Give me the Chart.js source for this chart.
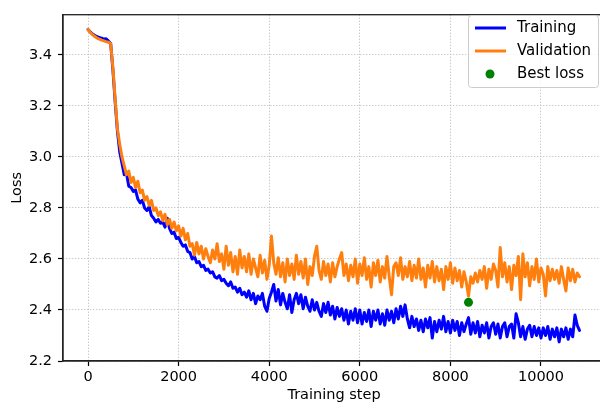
<!DOCTYPE html>
<html>
<head>
<meta charset="utf-8">
<script src="https://cdn.jsdelivr.net/npm/chart.js@4/dist/chart.umd.min.js"></script>
<style>
  html, body { margin: 0; padding: 0; background: #fff; }
  #wrap { width: 600px; height: 407px; overflow: hidden; position: relative; }
  canvas { display: block; }
</style>
</head>
<body>
<div id="wrap"><canvas id="graficoLoss" width="610" height="407"></canvas></div>
<script>
// Passos de treino (eixo x)
const steps = [
  0, 50, 100, 150, 200, 250, 300, 350, 400, 450,
  500, 550, 600, 650, 700, 750, 800, 850, 900, 950,
  1000, 1050, 1100, 1150, 1200, 1250, 1300, 1350, 1400, 1450,
  1500, 1550, 1600, 1650, 1700, 1750, 1800, 1850, 1900, 1950,
  2000, 2050, 2100, 2150, 2200, 2250, 2300, 2350, 2400, 2450,
  2500, 2550, 2600, 2650, 2700, 2750, 2800, 2850, 2900, 2950,
  3000, 3050, 3100, 3150, 3200, 3250, 3300, 3350, 3400, 3450,
  3500, 3550, 3600, 3650, 3700, 3750, 3800, 3850, 3900, 3950,
  4000, 4050, 4100, 4150, 4200, 4250, 4300, 4350, 4400, 4450,
  4500, 4550, 4600, 4650, 4700, 4750, 4800, 4850, 4900, 4950,
  5000, 5050, 5100, 5150, 5200, 5250, 5300, 5350, 5400, 5450,
  5500, 5550, 5600, 5650, 5700, 5750, 5800, 5850, 5900, 5950,
  6000, 6050, 6100, 6150, 6200, 6250, 6300, 6350, 6400, 6450,
  6500, 6550, 6600, 6650, 6700, 6750, 6800, 6850, 6900, 6950,
  7000, 7050, 7100, 7150, 7200, 7250, 7300, 7350, 7400, 7450,
  7500, 7550, 7600, 7650, 7700, 7750, 7800, 7850, 7900, 7950,
  8000, 8050, 8100, 8150, 8200, 8250, 8300, 8350, 8400, 8450,
  8500, 8550, 8600, 8650, 8700, 8750, 8800, 8850, 8900, 8950,
  9000, 9050, 9100, 9150, 9200, 9250, 9300, 9350, 9400, 9450,
  9500, 9550, 9600, 9650, 9700, 9750, 9800, 9850, 9900, 9950,
  10000, 10050, 10100, 10150, 10200, 10250, 10300, 10350, 10400, 10450,
  10500, 10550, 10600, 10650, 10700, 10750, 10800, 10850
];

// Loss de treino
const trainLoss = [
  3.500, 3.490, 3.482, 3.476, 3.472, 3.468, 3.466, 3.462, 3.463, 3.455,
  3.445, 3.340, 3.215, 3.100, 3.020, 2.975, 2.930, 2.935, 2.885, 2.880,
  2.865, 2.870, 2.835, 2.820, 2.830, 2.800, 2.790, 2.805, 2.770, 2.760,
  2.745, 2.755, 2.740, 2.745, 2.725, 2.760, 2.720, 2.700, 2.705, 2.680,
  2.685, 2.665, 2.650, 2.655, 2.630, 2.625, 2.600, 2.610, 2.585, 2.590,
  2.570, 2.575, 2.555, 2.560, 2.545, 2.550, 2.530, 2.525, 2.535, 2.515,
  2.520, 2.505, 2.495, 2.510, 2.485, 2.490, 2.470, 2.485, 2.460, 2.470,
  2.450, 2.475, 2.440, 2.465, 2.425, 2.455, 2.440, 2.465, 2.415, 2.395,
  2.445, 2.470, 2.500, 2.435, 2.480, 2.420, 2.465, 2.430, 2.405, 2.460,
  2.390, 2.440, 2.465, 2.425, 2.460, 2.405, 2.450, 2.415, 2.395, 2.440,
  2.400, 2.430, 2.395, 2.375, 2.425, 2.390, 2.430, 2.380, 2.415, 2.365,
  2.410, 2.375, 2.405, 2.360, 2.400, 2.345, 2.395, 2.360, 2.405, 2.350,
  2.400, 2.345, 2.390, 2.355, 2.400, 2.335, 2.395, 2.360, 2.400, 2.345,
  2.385, 2.340, 2.400, 2.360, 2.395, 2.350, 2.405, 2.365, 2.415, 2.375,
  2.420, 2.365, 2.330, 2.375, 2.335, 2.365, 2.320, 2.360, 2.315, 2.365,
  2.330, 2.370, 2.290, 2.355, 2.315, 2.360, 2.325, 2.375, 2.315, 2.355,
  2.310, 2.360, 2.320, 2.355, 2.300, 2.350, 2.315, 2.345, 2.370, 2.305,
  2.350, 2.310, 2.355, 2.295, 2.340, 2.310, 2.350, 2.290, 2.335, 2.350,
  2.305, 2.345, 2.290, 2.335, 2.350, 2.295, 2.335, 2.345, 2.290, 2.385,
  2.350, 2.295, 2.335, 2.285, 2.325, 2.340, 2.295, 2.335, 2.300, 2.330,
  2.290, 2.330, 2.300, 2.335, 2.285, 2.325, 2.295, 2.330, 2.275, 2.325,
  2.295, 2.330, 2.285, 2.325, 2.295, 2.380, 2.340, 2.320
];

// Loss de validação
const valLoss = [
  3.500, 3.488, 3.480, 3.472, 3.466, 3.462, 3.458, 3.455, 3.452, 3.450,
  3.445, 3.350, 3.225, 3.110, 3.050, 3.000, 2.965, 2.930, 2.945, 2.900,
  2.920, 2.880, 2.905, 2.860, 2.870, 2.830, 2.845, 2.810, 2.830, 2.790,
  2.800, 2.770, 2.785, 2.750, 2.775, 2.735, 2.755, 2.720, 2.745, 2.710,
  2.730, 2.690, 2.720, 2.675, 2.700, 2.650, 2.660, 2.615, 2.665, 2.620,
  2.650, 2.600, 2.640, 2.610, 2.585, 2.635, 2.600, 2.660, 2.590, 2.620,
  2.560, 2.650, 2.575, 2.625, 2.550, 2.610, 2.540, 2.635, 2.565, 2.610,
  2.550, 2.620, 2.540, 2.600, 2.565, 2.530, 2.615, 2.545, 2.595, 2.520,
  2.575, 2.690, 2.585, 2.540, 2.605, 2.530, 2.585, 2.510, 2.600, 2.535,
  2.580, 2.520, 2.615, 2.540, 2.590, 2.525, 2.600, 2.500, 2.570, 2.535,
  2.610, 2.650, 2.555, 2.520, 2.590, 2.535, 2.580, 2.510, 2.585, 2.530,
  2.570, 2.600, 2.625, 2.535, 2.580, 2.515, 2.575, 2.530, 2.600, 2.505,
  2.580, 2.535, 2.605, 2.520, 2.570, 2.490, 2.585, 2.535, 2.595, 2.510,
  2.570, 2.525, 2.610, 2.530, 2.460, 2.570, 2.585, 2.535, 2.605, 2.520,
  2.570, 2.530, 2.590, 2.515, 2.575, 2.525, 2.600, 2.520, 2.565, 2.490,
  2.575, 2.525, 2.590, 2.510, 2.570, 2.515, 2.560, 2.480, 2.570, 2.520,
  2.585, 2.505, 2.565, 2.515, 2.555, 2.490, 2.550, 2.510, 2.455, 2.530,
  2.505, 2.545, 2.510, 2.555, 2.520, 2.570, 2.485, 2.560, 2.520, 2.580,
  2.555, 2.490, 2.645, 2.530, 2.585, 2.510, 2.570, 2.480, 2.575, 2.535,
  2.610, 2.440, 2.620, 2.530, 2.585, 2.495, 2.570, 2.520, 2.600, 2.510,
  2.565, 2.540, 2.455, 2.570, 2.515, 2.560, 2.520, 2.555, 2.505, 2.570,
  2.520, 2.475, 2.565, 2.515, 2.560, 2.510, 2.545, 2.530
];

// Melhor loss (passo, valor)
const bestStep = [8400];
const bestLoss = [2.43];

// Ticks dos eixos
const xTicks = [0, 2000, 4000, 6000, 8000, 10000];
const yTicks = [2.2, 2.4, 2.6, 2.8, 3.0, 3.2, 3.4];

const fonte = "'DejaVu Sans', sans-serif";

function pares(xs, ys) {
  return xs.map((x, i) => ({ x: x, y: ys[i] }));
}

// Moldura (spines) em volta da área do gráfico
const molduraPlugin = {
  id: 'moldura',
  afterDatasetsDraw(chart) {
    const { ctx, chartArea: a } = chart;
    ctx.save();
    ctx.strokeStyle = '#222';
    ctx.lineWidth = 1.3;
    ctx.strokeRect(a.left, a.top, a.right - a.left, a.bottom - a.top);
    ctx.restore();
  }
};

// Legenda estilo matplotlib no canto superior direito
const legendaPlugin = {
  id: 'legendaMpl',
  afterDraw(chart) {
    const ctx = chart.ctx;
    const x0 = 468, y0 = 15, w = 130, h = 72, r = 3;
    ctx.save();
    ctx.fillStyle = 'rgba(255,255,255,0.8)';
    ctx.strokeStyle = '#cccccc';
    ctx.lineWidth = 1;
    ctx.beginPath();
    ctx.roundRect(x0 + 0.5, y0 + 0.5, w, h, r);
    ctx.fill();
    ctx.stroke();

    ctx.font = '15px ' + fonte;
    ctx.textBaseline = 'middle';
    ctx.fillStyle = '#000';
    const linhas = [28, 51, 74];
    chart.data.datasets.forEach(function (ds, i) {
      const y = linhas[i];
      if (ds.type === 'scatter') {
        ctx.fillStyle = ds.backgroundColor;
        ctx.beginPath();
        ctx.arc(490, y, 4.5, 0, Math.PI * 2);
        ctx.fill();
      } else {
        ctx.strokeStyle = ds.borderColor;
        ctx.lineWidth = 3;
        ctx.beginPath();
        ctx.moveTo(475, y);
        ctx.lineTo(506, y);
        ctx.stroke();
      }
      ctx.fillStyle = '#000';
      ctx.fillText(ds.label, 517, y);
    });
    ctx.restore();
  }
};

const ctx = document.getElementById('graficoLoss').getContext('2d');

new Chart(ctx, {
  type: 'line',
  data: {
    datasets: [
      {
        label: 'Training',
        data: pares(steps, trainLoss),
        borderColor: '#0000ff',
        borderWidth: 3,
        borderJoinStyle: 'round',
        borderCapStyle: 'round',
        pointRadius: 0,
        tension: 0,
        order: 3
      },
      {
        label: 'Validation',
        data: pares(steps, valLoss),
        borderColor: '#ff7f0e',
        borderWidth: 3,
        borderJoinStyle: 'round',
        borderCapStyle: 'round',
        pointRadius: 0,
        tension: 0,
        order: 2
      },
      {
        type: 'scatter',
        label: 'Best loss',
        data: pares(bestStep, bestLoss),
        backgroundColor: '#008000',
        borderWidth: 0,
        pointRadius: 4.5,
        order: 1
      }
    ]
  },
  options: {
    responsive: false,
    animation: false,
    devicePixelRatio: 1,
    layout: { padding: { top: 8, right: 5, bottom: 0, left: 0 } },
    plugins: {
      legend: { display: false },
      tooltip: { enabled: false }
    },
    scales: {
      x: {
        type: 'linear',
        min: -552,
        max: 11413,
        afterFit: function (scale) { scale.height = 46; },
        afterBuildTicks: function (scale) {
          scale.ticks = xTicks.map(v => ({ value: v }));
        },
        ticks: {
          color: '#000',
          font: { family: fonte, size: 14.5 },
          padding: 3,
          maxRotation: 0,
          autoSkip: false,
          callback: v => String(v)
        },
        grid: {
          color: '#b4b4b4',
          lineWidth: 1,
          tickLength: 5,
          tickColor: '#000',
          tickWidth: 1.2
        },
        border: { display: true, color: '#222', width: 1.3, dash: [1, 2] },
        title: {
          display: true,
          text: 'Training step',
          color: '#000',
          font: { family: fonte, size: 14.5 },
          padding: { top: 0, bottom: 3 }
        }
      },
      y: {
        min: 2.2,
        max: 3.5577,
        afterFit: function (scale) { scale.width = 63; },
        afterBuildTicks: function (scale) {
          scale.ticks = yTicks.map(v => ({ value: v }));
        },
        ticks: {
          color: '#000',
          font: { family: fonte, size: 14.5 },
          padding: 6,
          autoSkip: false,
          callback: v => v.toFixed(1)
        },
        grid: {
          color: '#b4b4b4',
          lineWidth: 1,
          tickLength: 5,
          tickColor: '#000',
          tickWidth: 1.2
        },
        border: { display: true, color: '#222', width: 1.3, dash: [1, 2] },
        title: {
          display: true,
          text: 'Loss',
          color: '#000',
          font: { family: fonte, size: 14.5 },
          padding: { top: 9, bottom: 0 }
        }
      }
    }
  },
  plugins: [molduraPlugin, legendaPlugin]
});
</script>
</body>
</html>
